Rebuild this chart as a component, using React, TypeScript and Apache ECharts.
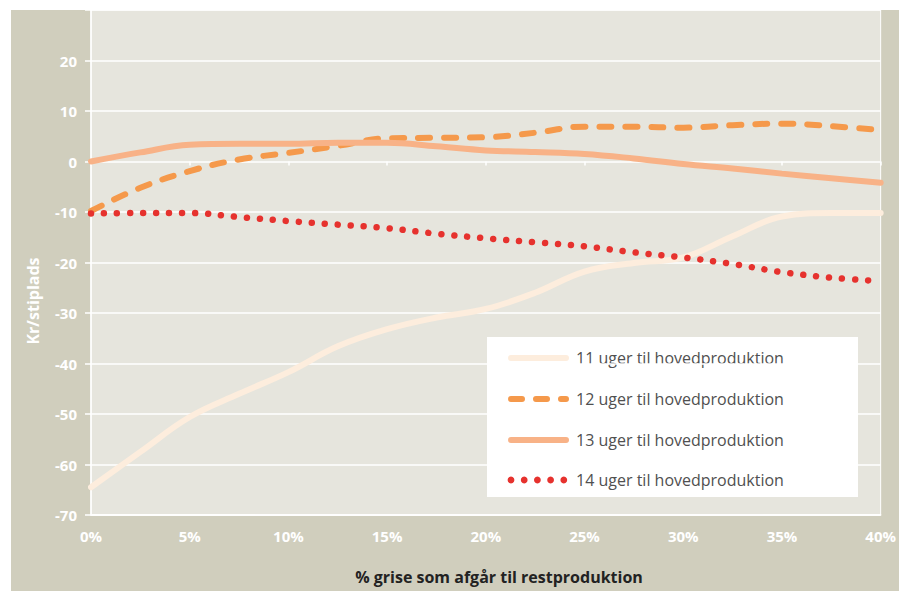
import React, { useEffect, useRef } from "react";
import * as echarts from "echarts";

const xValues = [0, 2.5, 5, 7.5, 10, 12.5, 15, 17.5, 20, 22.5, 25, 27.5, 30, 32.5, 35, 37.5, 40];
const weeks11 = [-64.5, -57.5, -50.6, -46.0, -41.7, -36.6, -33.2, -30.9, -29.2, -26.0, -21.8, -20.1, -19.0, -14.8, -10.9, -10.2, -10.2];
const weeks12 = [-9.8, -5.2, -1.9, 0.4, 1.7, 3.1, 4.6, 4.7, 4.8, 5.7, 6.9, 6.9, 6.7, 7.2, 7.5, 7.0, 6.2];
const weeks13 = [0, 1.8, 3.3, 3.5, 3.5, 3.7, 3.7, 3.0, 2.2, 1.9, 1.5, 0.6, -0.5, -1.4, -2.4, -3.3, -4.2];
const weeks14 = [-10.3, -10.2, -10.2, -11.0, -11.8, -12.5, -13.2, -14.3, -15.2, -16.0, -16.8, -18.0, -19.0, -20.3, -21.9, -23.0, -23.7];
const seriesNames = [
  "11 uger til hovedproduktion",
  "12 uger til hovedproduktion",
  "13 uger til hovedproduktion",
  "14 uger til hovedproduktion",
];
const yTicks = { min: -70, max: 30, interval: 10 };
const xTicks = { min: 0, max: 40, interval: 5 };
const yAxisTitle = "Kr/stiplads";
const xAxisTitle = "% grise som afgår til restproduktion";

const FONT = "'Open Sans', 'Noto Sans', sans-serif";
const C11 = "#fdeddd";
const C12 = "#f5994b";
const C13 = "#f8b287";
const C14 = "#e6322e";

function pairs(ys: number[]) {
  return ys.map((y, i) => [xValues[i], y]);
}

export default function App() {
  const ref = useRef<HTMLDivElement>(null);
  useEffect(() => {
    if (!ref.current) return;
    const chart = echarts.init(ref.current, null, { renderer: "svg" });

    const lx0 = 497;
    const lx1 = 558;
    const tx = 565;
    const rows = [348, 389, 430, 470];
    const legendText = (i: number) => ({
      type: "text",
      x: tx,
      y: rows[i],
      style: {
        text: seriesNames[i],
        fill: "#505050",
        font: "normal 16px " + FONT,
        textAlign: "left",
        textVerticalAlign: "middle",
      },
    });
    const dots = [0, 1, 2, 3, 4].map((k) => ({
      type: "circle",
      shape: { cx: 500 + k * 13.2, cy: rows[3], r: 3.4 },
      style: { fill: C14 },
    }));

    chart.setOption({
      animation: false,
      backgroundColor: "#d0cebd",
      grid: {
        left: 80,
        top: 0,
        width: 790,
        height: 505,
        show: true,
        backgroundColor: "#e6e5dd",
        borderColor: "#ffffff",
        borderWidth: 1,
      },
      xAxis: [
        {
          type: "value",
          min: xTicks.min,
          max: xTicks.max,
          interval: xTicks.interval,
          position: "bottom",
          axisLine: { onZero: false, lineStyle: { color: "#ffffff", width: 1.5 } },
          axisTick: { show: false },
          splitLine: { show: false },
          axisLabel: {
            color: "#ffffff",
            fontFamily: FONT,
            fontWeight: "bold",
            fontSize: 15,
            margin: 13,
            formatter: (v: number) => v + "%",
          },
        },
        {
          type: "value",
          min: xTicks.min,
          max: xTicks.max,
          interval: xTicks.interval,
          position: "bottom",
          axisLine: { show: false, onZero: true },
          axisTick: { show: true, length: 4, lineStyle: { color: "#ffffff", width: 1.5 } },
          splitLine: { show: false },
          axisLabel: { show: false },
        },
      ],
      yAxis: {
        type: "value",
        min: yTicks.min,
        max: yTicks.max,
        interval: yTicks.interval,
        axisLine: { show: true, lineStyle: { color: "#ffffff", width: 1.5 } },
        axisTick: { show: true, length: 6, lineStyle: { color: "#ffffff", width: 1.5 } },
        splitLine: { lineStyle: { color: "#ffffff", width: 1.5 } },
        axisLabel: {
          color: "#ffffff",
          fontFamily: FONT,
          fontWeight: "bold",
          fontSize: 15,
          margin: 14,
          formatter: (v: number) => (v === yTicks.max ? "" : String(v)),
        },
      },
      graphic: [
        {
          type: "text",
          x: 22,
          y: 291,
          rotation: Math.PI / 2,
          style: {
            text: yAxisTitle,
            fill: "#ffffff",
            font: "bold 16px " + FONT,
            textAlign: "center",
            textVerticalAlign: "middle",
          },
        },
        {
          type: "text",
          x: 488,
          y: 567,
          style: {
            text: xAxisTitle,
            fill: "#222222",
            font: "bold 16px " + FONT,
            textAlign: "center",
            textVerticalAlign: "middle",
          },
        },
        {
          type: "group",
          z: 100,
          children: [
            {
              type: "rect",
              shape: { x: 476, y: 327, width: 371, height: 160 },
              style: { fill: "#ffffff" },
            },
            {
              type: "line",
              shape: { x1: lx0 + 3, y1: rows[0], x2: lx1 - 3, y2: rows[0] },
              style: { stroke: C11, lineWidth: 6, lineCap: "round" },
            },
            {
              type: "line",
              shape: { x1: lx0 + 3, y1: rows[1], x2: lx1 - 3, y2: rows[1] },
              style: { stroke: C12, lineWidth: 6, lineCap: "round", lineDash: [11, 14] },
            },
            {
              type: "line",
              shape: { x1: lx0 + 3, y1: rows[2], x2: lx1 - 3, y2: rows[2] },
              style: { stroke: C13, lineWidth: 6, lineCap: "round" },
            },
            ...dots,
            legendText(0),
            legendText(1),
            legendText(2),
            legendText(3),
          ],
        },
      ],
      series: [
        {
          name: seriesNames[0],
          type: "line",
          data: pairs(weeks11),
          smooth: 0.4,
          symbol: "none",
          lineStyle: { color: C11, width: 6, cap: "round" },
          itemStyle: { color: C11 },
        },
        {
          name: seriesNames[1],
          type: "line",
          data: pairs(weeks12),
          smooth: 0.4,
          symbol: "none",
          lineStyle: { color: C12, width: 6, type: [12, 14], cap: "round" },
          itemStyle: { color: C12 },
        },
        {
          name: seriesNames[2],
          type: "line",
          data: pairs(weeks13),
          smooth: 0.4,
          symbol: "none",
          lineStyle: { color: C13, width: 6, cap: "round" },
          itemStyle: { color: C13 },
        },
        {
          name: seriesNames[3],
          type: "line",
          data: pairs(weeks14),
          smooth: 0.4,
          symbol: "none",
          lineStyle: { color: C14, width: 6.5, type: [0.01, 13], cap: "round" },
          itemStyle: { color: C14 },
        },
      ],
    });
    return () => chart.dispose();
  }, []);
  return (
    <div style={{ position: "fixed", left: 0, top: 0, width: 899, height: 591, background: "#ffffff" }}>
      <div ref={ref} style={{ position: "absolute", left: 11, top: 10, width: 888, height: 581 }} />
    </div>
  );
}
